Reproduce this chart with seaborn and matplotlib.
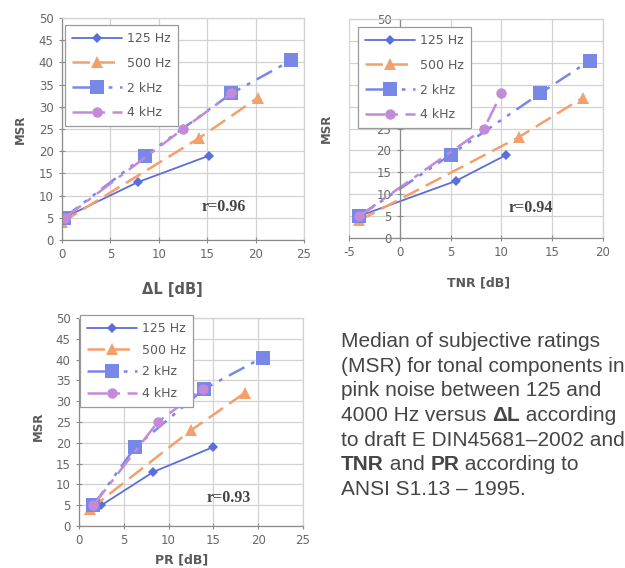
import matplotlib
matplotlib.use("Agg")
import matplotlib.pyplot as plt
import seaborn as sns
import pandas as pd

# Median subjective ratings (MSR) per tone frequency
series = ["125 Hz", "500 Hz", "2 kHz", "4 kHz"]
msr_125 = [5, 13, 19]
msr_500 = [4, 23, 32]
msr_2k = [5, 19, 33, 40.5]
msr_4k = [5, 25, 33]

# Level difference ΔL (E DIN 45681-2002)
dl_125 = [0.2, 7.8, 15.2]
dl_500 = [0.0, 14.2, 20.2]
dl_2k = [0.2, 8.6, 17.5, 23.7]
dl_4k = [0.3, 12.5, 17.5]

# Tone-to-noise ratio TNR (ANSI S1.13-1995)
tnr_125 = [-4.0, 5.5, 10.5]
tnr_500 = [-4.0, 11.7, 18.0]
tnr_2k = [-4.0, 5.0, 13.8, 18.7]
tnr_4k = [-4.0, 8.3, 10.0]

# Prominence ratio PR (ANSI S1.13-1995)
pr_125 = [2.5, 8.3, 15.0]
pr_500 = [1.2, 12.5, 18.5]
pr_2k = [1.6, 6.3, 14.0, 20.5]
pr_4k = [1.6, 8.8, 13.8]

corr_labels = ["r=0.96", "r=0.94", "r=0.93"]
x_labels = ["ΔL [dB]", "TNR [dB]", "PR [dB]"]

msr = dict(zip(series, [msr_125, msr_500, msr_2k, msr_4k]))
panels_x = [
    dict(zip(series, [dl_125, dl_500, dl_2k, dl_4k])),
    dict(zip(series, [tnr_125, tnr_500, tnr_2k, tnr_4k])),
    dict(zip(series, [pr_125, pr_500, pr_2k, pr_4k])),
]

frames = []
for p, xs in enumerate(panels_x):
    for s in series:
        frames.append(pd.DataFrame({"panel": p, "series": s, "x": xs[s], "msr": msr[s]}))
data = pd.concat(frames, ignore_index=True)

styles = {
    "125 Hz": dict(color="#5b6fd8", marker="D", ms=5.5, lw=1.3, ls="-"),
    "500 Hz": dict(color="#f4a06c", marker="^", ms=8, lw=1.8, ls=(0, (7, 3))),
    "2 kHz": dict(color="#7888e6", marker="s", ms=9.5, lw=1.8, ls=(0, (7, 3, 1.5, 3, 1.5, 3))),
    "4 kHz": dict(color="#c489d8", marker="o", ms=7.5, lw=1.8, ls=(0, (8, 3, 2, 3))),
}

sns.set_style("white")
plt.rcParams["font.family"] = ["DejaVu Sans"]
plt.rcParams["axes.unicode_minus"] = False

fig = plt.figure(figsize=(6.25, 5.68), dpi=100)
W, H = 625, 568


def px_axes(left, top, right, bottom):
    return fig.add_axes([left / W, 1 - bottom / H, (right - left) / W, (bottom - top) / H])


axes = [
    px_axes(62, 18, 304, 240),
    px_axes(349, 19, 603, 238),
    px_axes(79, 318, 303, 526),
]
xlims = [(0, 25), (-5, 20), (0, 25)]
legend_anchor = [(65, 25), (358, 27), (80, 315)]
label_spacing = [0.95, 0.95, 0.7]
ylabel_pos = [(-0.17, 0.5), (-0.09, 0.5), (-0.18, 0.48)]
xlabel_pos = [(0.455, -0.225), (0.51, -0.205), (0.46, -0.165)]
xlabel_size = [10.5, 9, 9]
corr_pos = [(16.7, 7.4), (12.9, 6.85), (16.7, 6.7)]

grid_c = "#d2d2d2"
axis_c = "#8a8a8a"
text_c = "#5a5a5a"

for p, ax in enumerate(axes):
    sub = data[data["panel"] == p]
    for s in series:
        st = styles[s]
        d = sub[sub["series"] == s]
        sns.lineplot(
            data=d, x="x", y="msr", ax=ax, sort=False, estimator=None,
            color=st["color"], marker=st["marker"], markersize=st["ms"],
            markeredgewidth=0, markeredgecolor=st["color"],
            linewidth=st["lw"], linestyle=st["ls"], label=s,
        )
    x0, x1 = xlims[p]
    ax.set_xlim(x0, x1)
    ax.set_ylim(0, 50)
    ax.set_xticks(range(x0, x1 + 1, 5))
    ax.set_yticks(range(0, 51, 5))
    ax.grid(True, color=grid_c, linewidth=0.9)
    ax.set_axisbelow(True)
    for side in ["top", "right"]:
        ax.spines[side].set_color(grid_c)
        ax.spines[side].set_linewidth(0.9)
    for side in ["left", "bottom"]:
        ax.spines[side].set_color(axis_c)
        ax.spines[side].set_linewidth(0.9)
    if x0 < 0:
        ax.spines["left"].set_position(("data", 0))
    ax.tick_params(axis="both", direction="inout", length=4, width=0.8,
                   color=axis_c, labelsize=8.5, labelcolor="#666666", pad=4,
                   left=True, bottom=True)
    ax.set_xlabel(x_labels[p], fontsize=xlabel_size[p], fontweight="bold", color=text_c)
    ax.set_ylabel("MSR", fontsize=8.5, fontweight="bold", color=text_c)
    ax.xaxis.set_label_coords(*xlabel_pos[p])
    ax.yaxis.set_label_coords(*ylabel_pos[p])
    ax.xaxis.label.set_va("center")
    ax.yaxis.label.set_va("center")
    ax.text(*corr_pos[p], corr_labels[p], fontsize=11.5, fontweight="bold",
            family="Liberation Serif", color="#444444", ha="center", va="center")
    lx, ly = legend_anchor[p]
    leg = ax.legend(loc="upper left", bbox_to_anchor=(lx / W, 1 - ly / H),
                    bbox_transform=fig.transFigure, borderaxespad=0,
                    frameon=True, fancybox=False, edgecolor="#9a9a9a",
                    framealpha=1, handlelength=4, fontsize=9,
                    labelspacing=label_spacing[p], borderpad=0.55,
                    handletextpad=0.4)
    leg.get_frame().set_linewidth(0.9)
    leg.set_zorder(10)
    for t in leg.get_texts():
        t.set_color(text_c)

# Caption beside the lower chart; mixed-weight lines are split into pieces
cap_kw = dict(fontsize=15, family="Liberation Sans", color="#454545")
caption_lines = [
    [("Median of subjective ratings", "normal")],
    [("(MSR) for tonal components in", "normal")],
    [("pink noise between 125 and", "normal")],
    [("4000 Hz versus ", "normal"), ("ΔL", "bold"), (" according", "normal")],
    [("to draft E DIN45681\u20132002 and", "normal")],
    [("TNR", "bold"), (" and ", "normal"), ("PR", "bold"), (" according to", "normal")],
    [("ANSI S1.13 \u2013 1995.", "normal")],
]
x_cap = 341 / W
fig.canvas.draw()
renderer = fig.canvas.get_renderer()
for i, pieces in enumerate(caption_lines):
    yb = 1 - (347 + i * 24.7) / H
    x = x_cap
    for piece, weight in pieces:
        t = fig.text(x, yb, piece, va="baseline", ha="left", fontweight=weight, **cap_kw)
        x = t.get_window_extent(renderer).x1 / fig.bbox.width

fig.savefig("out.png", dpi=100, facecolor="white")
